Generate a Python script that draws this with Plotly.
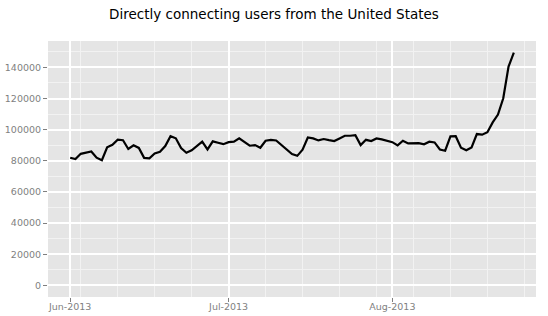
import pandas as pd
import plotly.graph_objects as go

start_date = "2013-06-01"
users = [82000, 81200, 84500, 85300, 86000, 82000, 80400, 88700, 90300, 93600,
         93200, 87600, 90000, 88300, 81900, 81600, 84700, 85800, 89500, 95800,
         94500, 88200, 85200, 86800, 89500, 92300, 87300, 92500, 91600, 90700,
         92000, 92300, 94400, 92300, 89700, 90100, 88400, 92900, 93500, 93100,
         90100, 86900, 84300, 83200, 87100, 95000, 94400, 93100, 94000, 93300,
         92700, 94400, 96100, 96100, 96500, 90100, 93500, 92700, 94400, 93800,
         93100, 92000, 89900, 92900, 91200, 91400, 91400, 90600, 92300, 91800,
         87300, 86500, 95700, 95800, 88400, 86800, 88600, 97200, 96800, 98400,
         104700, 109700, 120200, 140500, 149500]
dates = pd.date_range(start_date, periods=len(users), freq="D")
x_ticks = ["2013-06-01", "2013-07-01", "2013-08-01"]
y_ticks = [0, 20000, 40000, 60000, 80000, 100000, 120000, 140000]

# ggplot-like 5% expansion
span = dates[-1] - dates[0]
x_range = [dates[0] - span * 0.05, dates[-1] + span * 0.05]
ymin, ymax = 0, max(users)
yr = ymax - ymin
y_range = [ymin - 0.05 * yr, ymax + 0.05 * yr]

fig = go.Figure()
fig.add_trace(go.Scatter(x=dates, y=users, mode="lines",
                         line=dict(color="black", width=2.2), hoverinfo="skip"))

fig.update_layout(
    width=548, height=316,
    margin=dict(l=48, r=12, t=41, b=19, autoexpand=False),
    paper_bgcolor="white", plot_bgcolor="#E5E5E5",
    showlegend=False,
    font=dict(family="DejaVu Sans", size=9.5, color="#7F7F7F"),
    title=dict(text="Directly connecting users from the United States",
               x=0.5, xanchor="center", y=1 - 14 / 316, yanchor="middle",
               font=dict(family="DejaVu Sans", size=13.5, color="black")),
)
fig.update_xaxes(
    range=x_range, tickvals=x_ticks, tickformat="%b-%Y", automargin=False,
    showgrid=True, gridcolor="white", gridwidth=1.6,
    ticks="outside", ticklen=4, tickcolor="#7F7F7F", tickwidth=1,
    ticklabelstandoff=-3,
    zeroline=False, showline=False,
    minor=dict(tick0="2013-06-03", dtick=7 * 86400000, showgrid=True,
               gridcolor="#F2F2F2", gridwidth=1, ticks=""),
)
fig.update_yaxes(
    range=y_range, tickvals=y_ticks, tickformat="d", automargin=False,
    showgrid=True, gridcolor="white", gridwidth=1.6,
    ticks="outside", ticklen=4, tickcolor="#7F7F7F", tickwidth=1,
    zeroline=False, showline=False,
    minor=dict(tick0=10000, dtick=20000, showgrid=True,
               gridcolor="#F2F2F2", gridwidth=1, ticks=""),
)

fig.write_html("out.html")
